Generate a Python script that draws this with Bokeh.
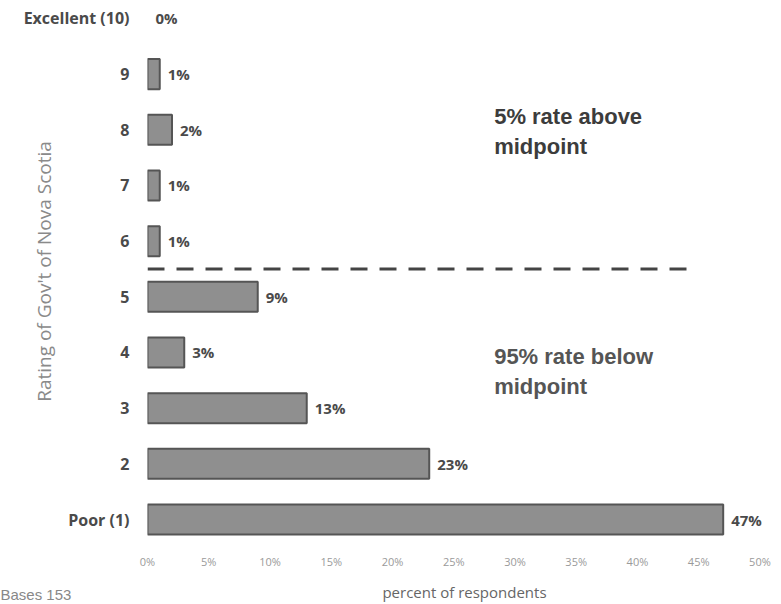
from bokeh.plotting import figure
from bokeh.models import ColumnDataSource, Label, Title, FixedTicker, CDSView, BooleanFilter
from bokeh.embed import file_html
from bokeh.resources import INLINE

# Ratings (1 = Poor ... 10 = Excellent) and share of respondents in percent
ratings = [10, 9, 8, 7, 6, 5, 4, 3, 2, 1]
rating_labels = ["Excellent (10)", "9", "8", "7", "6", "5", "4", "3", "2", "Poor (1)"]
percents = [0, 1, 2, 1, 1, 9, 3, 13, 23, 47]
x_ticks = [0, 5, 10, 15, 20, 25, 30, 35, 40, 45, 50]
x_tick_labels = ["0%", "5%", "10%", "15%", "20%", "25%", "30%", "35%", "40%", "45%", "50%"]
midpoint = 5.5
divider_end = 44.9
above_note = "5% rate above\nmidpoint"
below_note = "95% rate below\nmidpoint"
y_title = "Rating of Gov't of Nova Scotia"
x_title = "percent of respondents"
base_note = "Bases 153"

src = ColumnDataSource(dict(
    y=ratings,
    pct=percents,
    txt=[f"{v}%" for v in percents],
))

p = figure(width=781, height=604, output_backend="svg", toolbar_location=None,
           x_range=(0, 51.76), y_range=(0.587, 10.323),
           min_border_left=147, min_border_right=0, min_border_top=0,
           min_border_bottom=59)
p.outline_line_color = None
p.grid.grid_line_color = None
p.background_fill_color = "white"
p.border_fill_color = "white"

# Bars (only where there is a non-zero share)
view = CDSView(filter=BooleanFilter([v > 0 for v in percents]))
p.hbar(y="y", left=0, right="pct", height=0.54, source=src, view=view,
       fill_color="#8f8f8f", line_color="#555555", line_width=2)

# Value labels at the end of each bar
p.text(x="pct", y="y", text="txt", source=src, x_offset=8,
       text_baseline="middle", text_align="left",
       text_font={"value": "Open Sans"}, text_font_style="bold",
       text_font_size="15px", text_color="#4a4a4a")

# Dashed divider between the upper and lower halves of the scale
p.line(x=[0, divider_end], y=[midpoint, midpoint], line_color="#444444",
       line_width=3, line_dash="17 12")

# Axes
xa = p.xaxis[0]
xa.ticker = FixedTicker(ticks=x_ticks)
xa.major_label_overrides = {t: l for t, l in zip(x_ticks, x_tick_labels)}
xa.axis_line_color = None
xa.major_tick_line_color = None
xa.minor_tick_line_color = None
xa.major_label_standoff = 5
xa.major_label_text_font = "Open Sans"
xa.major_label_text_font_size = "11px"
xa.major_label_text_color = "#9a9a9a"
xa.axis_label = x_title
xa.axis_label_standoff = 10
xa.axis_label_text_font = "Open Sans"
xa.axis_label_text_font_style = "normal"
xa.axis_label_text_font_size = "15px"
xa.axis_label_text_color = "#666666"

ya = p.yaxis[0]
ya.ticker = FixedTicker(ticks=ratings)
ya.major_label_overrides = {r: l for r, l in zip(ratings, rating_labels)}
ya.axis_line_color = None
ya.major_tick_line_color = None
ya.minor_tick_line_color = None
ya.major_label_standoff = 12
ya.major_label_text_font = "Open Sans"
ya.major_label_text_font_style = "bold"
ya.major_label_text_font_size = "16px"
ya.major_label_text_color = "#4a4a4a"
# the scale title sits in beside the rating labels rather than outside them
ya.axis_label = y_title
ya.axis_label_standoff = -36
ya.axis_label_text_font = "Open Sans"
ya.axis_label_text_font_style = "normal"
ya.axis_label_text_font_size = "19px"
ya.axis_label_text_color = "#8a8a8a"

# Notes on either side of the divider
p.add_layout(Label(x=28.3, y=8.47, text=above_note, text_align="left",
                   text_baseline="top", text_font="Liberation Sans",
                   text_font_style="bold", text_font_size="22px",
                   text_color="#3c3c3c", text_line_height=1.2))
p.add_layout(Label(x=28.3, y=4.16, text=below_note, text_align="left",
                   text_baseline="top", text_font="Liberation Sans",
                   text_font_style="bold", text_font_size="22px",
                   text_color="#555555", text_line_height=1.2))

# Sample size note at the bottom-left corner
p.add_layout(Title(text=base_note, align="left", offset=-147, standoff=-38,
                   vertical_align="top", text_font="Liberation Sans",
                   text_font_style="normal", text_font_size="15px",
                   text_color="#888888"), "below")

open("out.html", "w").write(file_html(p, INLINE))
